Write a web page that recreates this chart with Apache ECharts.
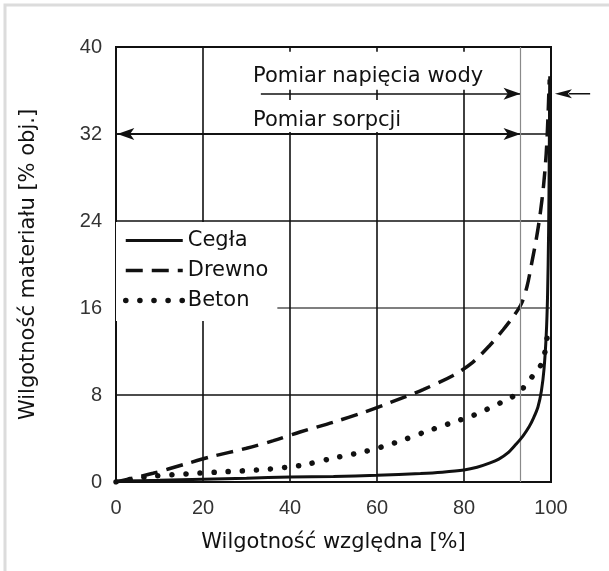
<!DOCTYPE html>
<html>
<head>
<meta charset="utf-8">
<script src="https://cdn.jsdelivr.net/npm/echarts@6/dist/echarts.min.js"></script>
<style>
  html, body { margin: 0; padding: 0; background: #fff; }
  #chart { width: 609px; height: 571px; }
</style>
</head>
<body>
<div id="chart"></div>
<script>
// Sorption isotherms: material moisture vs. relative humidity
const seriesNames = ['Cegła', 'Drewno', 'Beton'];

const ceglaX = [0, 10, 20, 30, 40, 50, 60, 70, 75, 80, 83, 86, 88, 90, 92, 93.5, 95, 96, 97, 97.8, 98.4, 98.9, 99.2, 99.45, 99.6, 99.7];
const ceglaY = [0.1, 0.15, 0.25, 0.35, 0.45, 0.5, 0.62, 0.78, 0.9, 1.1, 1.35, 1.75, 2.1, 2.65, 3.5, 4.2, 5.1, 5.9, 6.9, 8.4, 10.4, 13.5, 17, 23, 30, 37.3];

const drewnoX = [0, 8.5, 15.5, 21.6, 30, 36.2, 42.3, 50, 56.9, 63, 70.6, 77.5, 82, 86, 89, 91.5, 93.2, 94.5, 95.6, 96.6, 97.5, 98.3, 98.9, 99.3, 99.6];
const drewnoY = [0, 0.8, 1.6, 2.3, 3.1, 3.8, 4.6, 5.5, 6.4, 7.3, 8.5, 9.8, 11.0, 12.6, 14.0, 15.3, 16.4, 18.0, 20.2, 22.3, 24.6, 27.3, 30.2, 33.5, 37];

const betonX = [0, 7.8, 18.5, 25.4, 32.3, 39.2, 43, 50, 57.2, 64.1, 71, 78.3, 82, 89, 92.5, 95.5, 98.1, 99.3];
const betonY = [0, 0.5, 0.8, 0.95, 1.1, 1.35, 1.56, 2.2, 2.8, 3.6, 4.6, 5.6, 6.1, 7.4, 8.2, 9.6, 11.1, 14];

// measuring ranges (in axis units)
const napiecieRange = [33.3, 93];   // water tension measurement
const napiecieLevel = 35.7;
const sorpcjaRange = [0.3, 93];     // sorption measurement
const sorpcjaLevel = 32;
const outerArrow = [109, 100.9];    // arrow right of the plot, pointing at 100 %
const limitRH = 93;
const labelStartX = 30.8;

const xAxisTitle = 'Wilgotność względna [%]';
const yAxisTitle = 'Wilgotność materiału [% obj.]';
const labelNapiecie = 'Pomiar napięcia wody';
const labelSorpcja = 'Pomiar sorpcji';

const pairs = (xs, ys) => xs.map((x, i) => [x, ys[i]]);

const chart = echarts.init(document.getElementById('chart'), null, { renderer: 'canvas' });

const curveColor = '#111';
const arrowStyle = { color: '#111', width: 1.5, type: 'solid' };

chart.setOption({
  animation: false,
  backgroundColor: '#fff',
  grid: {
    left: 116, top: 47, width: 435, height: 435,
    show: true, borderColor: '#111', borderWidth: 2, backgroundColor: 'transparent'
  },
  xAxis: {
    type: 'value', min: 0, max: 100, interval: 20,
    name: xAxisTitle, nameLocation: 'middle', nameGap: 50,
    nameTextStyle: { fontFamily: 'DejaVu Sans', fontSize: 21, color: '#111' },
    axisLine: { show: true, lineStyle: { color: '#111', width: 2 } },
    axisTick: { show: false },
    axisLabel: { fontFamily: 'Liberation Sans', fontSize: 20, color: '#333', margin: 16 },
    splitLine: { show: true, lineStyle: { color: '#111', width: 1.6 } }
  },
  yAxis: {
    type: 'value', min: 0, max: 40, interval: 8,
    name: yAxisTitle, nameLocation: 'middle', nameGap: 77,
    nameTextStyle: { fontFamily: 'DejaVu Sans', fontSize: 21, color: '#111' },
    axisLine: { show: true, lineStyle: { color: '#111', width: 2 } },
    axisTick: { show: false },
    axisLabel: { fontFamily: 'Liberation Sans', fontSize: 20, color: '#333', margin: 14 },
    splitLine: { show: true, lineStyle: { color: ['#111', '#111', '#555', '#111', '#111', '#111'], width: 1.6 } }
  },
  legend: {
    left: 116, top: 222,
    orient: 'vertical',
    data: seriesNames,
    itemWidth: 57, itemHeight: 14, itemGap: 7,
    itemStyle: { opacity: 0 },
    lineStyle: { width: 'inherit', type: 'inherit', cap: 'inherit' },
    backgroundColor: '#fff',
    padding: [7, 9, 9, 7],
    textStyle: { fontFamily: 'DejaVu Sans', fontSize: 21, color: '#111', lineHeight: 23 }
  },
  series: [
    {
      name: seriesNames[0], type: 'line', data: pairs(ceglaX, ceglaY),
      smooth: 0.3, symbol: 'none', z: 5,
      lineStyle: { color: curveColor, width: 3 },
      itemStyle: { color: curveColor },
      markLine: {
        silent: true, symbol: ['none', 'arrow'], symbolSize: [9, 17],
        label: { show: false }, lineStyle: arrowStyle,
        data: [
          [{ coord: [napiecieRange[0], napiecieLevel] }, { coord: [napiecieRange[1], napiecieLevel] }],
          [{ coord: [sorpcjaRange[1], sorpcjaLevel], symbol: 'none' }, { coord: [sorpcjaRange[0], sorpcjaLevel] }],
          [{ coord: [sorpcjaRange[0], sorpcjaLevel] }, { coord: [sorpcjaRange[1], sorpcjaLevel] }],
          [{ coord: [limitRH, 0], symbol: 'none', lineStyle: { color: '#8a8a8a', width: 1.2 } },
           { coord: [limitRH, 40], symbol: 'none' }]
        ]
      }
    },
    {
      name: seriesNames[1], type: 'line', data: pairs(drewnoX, drewnoY),
      smooth: 0.3, symbol: 'none', z: 4,
      lineStyle: { color: curveColor, width: 3.5, type: [17, 9] },
      itemStyle: { color: curveColor }
    },
    {
      name: seriesNames[2], type: 'line', data: pairs(betonX, betonY),
      smooth: 0.3, symbol: 'none', z: 3,
      lineStyle: { color: curveColor, width: 5.5, type: [0.1, 14], cap: 'round' },
      itemStyle: { color: curveColor }
    }
  ]
});

// Arrow outside the plot (right side) and the two range labels
const pA = chart.convertToPixel({ xAxisIndex: 0, yAxisIndex: 0 }, [outerArrow[0], napiecieLevel]);
const pB = chart.convertToPixel({ xAxisIndex: 0, yAxisIndex: 0 }, [outerArrow[1], napiecieLevel]);
const pNap = chart.convertToPixel({ xAxisIndex: 0, yAxisIndex: 0 }, [labelStartX, napiecieLevel]);
const pSor = chart.convertToPixel({ xAxisIndex: 0, yAxisIndex: 0 }, [labelStartX, sorpcjaLevel]);

chart.setOption({
  graphic: [
    {
      type: 'rect', silent: true, z: 100,
      shape: { x: 5, y: 5, width: 700, height: 700 },
      style: { fill: 'none', stroke: '#dcdcdc', lineWidth: 3 }
    },
    {
      type: 'line', silent: true, z: 60,
      shape: { x1: pA[0], y1: pA[1], x2: pB[0] + 14, y2: pB[1] },
      style: { stroke: '#111', lineWidth: 1.5 }
    },
    {
      type: 'polygon', silent: true, z: 60,
      shape: { points: [[pB[0], pB[1]], [pB[0] + 17, pB[1] - 4.5], [pB[0] + 13, pB[1]], [pB[0] + 17, pB[1] + 4.5]] },
      style: { fill: '#111' }
    },
    {
      type: 'text', x: pNap[0], y: pNap[1] - 42, z: 50,
      style: {
        text: labelNapiecie, font: '21px "DejaVu Sans"', fill: '#111', lineHeight: 23,
        backgroundColor: '#fff', padding: [13, 3, 2, 3]
      }
    },
    {
      type: 'text', x: pSor[0], y: pSor[1] - 34, z: 50,
      style: {
        text: labelSorpcja, font: '21px "DejaVu Sans"', fill: '#111', lineHeight: 23,
        backgroundColor: '#fff', padding: [9, 3, 0, 3]
      }
    }
  ]
});
</script>
</body>
</html>
